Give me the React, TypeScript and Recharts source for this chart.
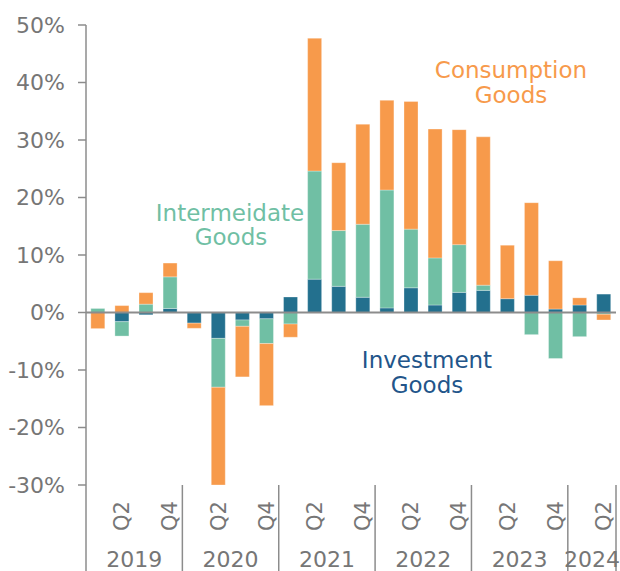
import React from 'react';
import { BarChart, Bar, XAxis, YAxis, ReferenceLine } from 'recharts';

const quarters = [
  'Q1', 'Q2', 'Q3', 'Q4', 'Q1', 'Q2', 'Q3', 'Q4', 'Q1', 'Q2', 'Q3',
  'Q4', 'Q1', 'Q2', 'Q3', 'Q4', 'Q1', 'Q2', 'Q3', 'Q4', 'Q1', 'Q2',
];
const years = [
  '2019', '2019', '2019', '2019', '2020', '2020', '2020', '2020', '2021', '2021', '2021',
  '2021', '2022', '2022', '2022', '2022', '2023', '2023', '2023', '2023', '2024', '2024',
];
const investment = [
  0, -1.6, -0.4, 0.7, -1.85, -4.5, -1.3, -1.1, 2.7, 5.8, 4.55,
  2.65, 0.8, 4.3, 1.3, 3.5, 3.85, 2.4, 3.0, 0.6, 1.3, 3.2,
];
const intermediate = [
  0.7, -2.5, 1.45, 5.5, 0, -8.5, -1.1, -4.3, -2.0, 18.8, 9.7,
  12.7, 20.5, 10.2, 8.2, 8.3, 0.9, 0, -3.85, -8.0, -4.2, -0.3,
];
const consumption = [
  -2.8, 1.2, 2.0, 2.4, -0.9, -17.5, -8.8, -10.8, -2.3, 23.1, 11.8,
  17.4, 15.6, 22.2, 22.4, 20.0, 25.8, 9.3, 16.1, 8.4, 1.25, -1.0,
];
const yTicks = [-30, -20, -10, 0, 10, 20, 30, 40, 50];

const data = quarters.map((q, i) => ({
  key: years[i] + q,
  investment: investment[i],
  intermediate: intermediate[i],
  consumption: consumption[i],
}));

const W = 620;
const H = 571;
const PLOT_LEFT = 86;
const PLOT_RIGHT = 616;
const PLOT_TOP = 25;
const PLOT_BOTTOM = 485;
const BAND = (PLOT_RIGHT - PLOT_LEFT) / quarters.length;

const GRAY = '#767676';
const LINE = '#8c8c8c';
const ORANGE = '#f79a4b';
const GREEN = '#70bfa4';
const BLUE = '#23708e';

const QuarterTick = (props: any) => {
  const { x, index } = props;
  const q = quarters[index];
  const last = index === quarters.length - 1;
  const parts: React.ReactNode[] = [];
  if (q === 'Q2' || q === 'Q4') {
    parts.push(
      <text
        key="q"
        x={x}
        y={516}
        transform={`rotate(-90, ${x}, 516)`}
        textAnchor="middle"
        dominantBaseline="central"
        fill={GRAY}
        fontSize={21}
      >
        {q}
      </text>
    );
  }
  if (q === 'Q1') {
    const lx = x - BAND / 2;
    parts.push(<line key="s" x1={lx} x2={lx} y1={PLOT_BOTTOM} y2={H} stroke={LINE} strokeWidth={1.5} />);
  }
  if (last) {
    const lx = x + BAND / 2;
    parts.push(<line key="e" x1={lx} x2={lx} y1={PLOT_BOTTOM} y2={H} stroke={LINE} strokeWidth={1.5} />);
  }
  if (q === 'Q2') {
    const yx = last ? x - BAND / 2 : x + BAND / 2;
    parts.push(
      <text key="y" x={yx} y={567} textAnchor="middle" fill={GRAY} fontSize={22}>
        {years[index]}
      </text>
    );
  }
  return <g>{parts}</g>;
};

const App = () => {
  return (
    <div style={{ position: 'relative', width: W, height: H, fontFamily: '"DejaVu Sans", sans-serif' }}>
      <style>{'body{margin:0}'}</style>
      <BarChart
        width={W}
        height={H}
        data={data}
        stackOffset="sign"
        barCategoryGap="20%"
        margin={{ top: PLOT_TOP, right: W - PLOT_RIGHT, bottom: 0, left: 0 }}
      >
        <XAxis
          dataKey="key"
          interval={0}
          height={H - PLOT_BOTTOM}
          axisLine={false}
          tickLine={false}
          tick={(p: any) => <QuarterTick {...p} />}
        />
        <YAxis
          width={PLOT_LEFT}
          domain={[-30, 50]}
          ticks={yTicks}
          allowDataOverflow
          tickFormatter={(v: number) => `${v}%`}
          tick={{ fill: GRAY, fontSize: 22 }}
          tickSize={8}
          tickMargin={13}
          axisLine={{ stroke: LINE, strokeWidth: 1.5 }}
          tickLine={{ stroke: LINE, strokeWidth: 1.5 }}
        />
        <Bar dataKey="investment" stackId="a" fill={BLUE} stroke="#ffffff" strokeOpacity={0.5} strokeWidth={0.6} isAnimationActive={false} />
        <Bar dataKey="intermediate" stackId="a" fill={GREEN} stroke="#ffffff" strokeOpacity={0.5} strokeWidth={0.6} isAnimationActive={false} />
        <Bar dataKey="consumption" stackId="a" fill={ORANGE} stroke="#ffffff" strokeOpacity={0.5} strokeWidth={0.6} isAnimationActive={false} />
        <ReferenceLine y={0} stroke={LINE} strokeWidth={2} />
      </BarChart>
      <svg
        width={W}
        height={H}
        style={{ position: 'absolute', left: 0, top: 0, pointerEvents: 'none' }}
      >
        <g fontSize={23} textAnchor="middle">
          <text x={511} y={78} fill={ORANGE}>Consumption</text>
          <text x={511} y={103} fill={ORANGE}>Goods</text>
          <text x={230} y={221} fill={GREEN}>Intermeidate</text>
          <text x={231} y={245} fill={GREEN}>Goods</text>
          <text x={427} y={368} fill="#22558a">Investment</text>
          <text x={427} y={393} fill="#22558a">Goods</text>
        </g>
      </svg>
    </div>
  );
};

export default App;
